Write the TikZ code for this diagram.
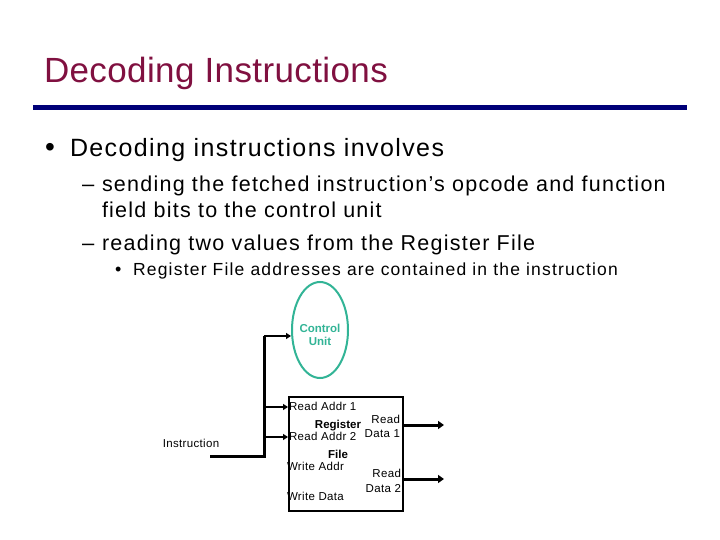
\documentclass[tikz,border=0pt]{standalone}
\usepackage{fontspec}
\setmainfont{Liberation Sans}
\usetikzlibrary{arrows.meta,shapes.geometric}
\definecolor{titlered}{RGB}{128,16,64}
\definecolor{rulenavy}{RGB}{0,0,120}
\definecolor{cuteal}{RGB}{50,180,150}
\begin{document}
\begin{tikzpicture}[x=1pt,y=-1pt,
  txt/.style={anchor=base west,inner sep=0pt,outer sep=0pt},
  small/.style={inner sep=0pt,outer sep=0pt,font=\fontsize{11.5}{12}\selectfont\addfontfeature{LetterSpace=3}},
  bus/.style={line width=3pt},
  busarrow/.style={line width=3pt,-{Triangle[length=6pt,width=8pt]}},
  thinarrow/.style={line width=2.2pt,-{Triangle[length=5pt,width=6pt]}}]
\useasboundingbox (0,0) rectangle (720,540);
\fill[white] (0,0) rectangle (720,540);
% title
\node[txt,text=titlered,font=\fontsize{35}{40}\selectfont\addfontfeature{LetterSpace=1.1}] (title) at (44,83) {Decoding Instructions};
\fill[rulenavy] (33,105) rectangle (687,110);
% bullets
\node[txt,font=\fontsize{28}{32}\selectfont] (b1) at (45,157) {•};
\node[txt,font=\fontsize{25}{30}\selectfont\addfontfeature{LetterSpace=5.6}] (t1) at (70,157) {Decoding instructions involves};
\node[txt,font=\fontsize{22}{26}\selectfont] (d1) at (82,192) {–};
\node[txt,font=\fontsize{21.5}{26}\selectfont\addfontfeature{LetterSpace=5.8}] (t2) at (102,192) {sending the fetched instruction’s opcode and function};
\node[txt,font=\fontsize{21.5}{26}\selectfont\addfontfeature{LetterSpace=5.8}] (t3) at (102,218) {field bits to the control unit};
\node[txt,font=\fontsize{22}{26}\selectfont] (d2) at (82,251) {–};
\node[txt,font=\fontsize{21.5}{26}\selectfont\addfontfeature{LetterSpace=5.8}] (t4) at (102,251) {reading two values from the Register File};
\node[txt,font=\fontsize{18}{22}\selectfont] (b2) at (115,275) {•};
\node[txt,font=\fontsize{17.5}{22}\selectfont\addfontfeature{LetterSpace=6.9}] (t5) at (133,275) {Register File addresses are contained in the instruction};
% control unit
\node[ellipse,draw=cuteal,line width=2pt,minimum width=56pt,minimum height=96pt,inner sep=0pt] (cu) at (320,330) {};
\node[small,font=\fontsize{11.5}{12}\selectfont\bfseries,text=cuteal,anchor=base] (cu1) at (320,332) {Control};
\node[small,font=\fontsize{11.5}{12}\selectfont\bfseries,text=cuteal,anchor=base] (cu2) at (320,345) {Unit};
% register file
\node[draw,line width=1.5pt,minimum width=114pt,minimum height=114pt,inner sep=0pt,anchor=north west] (rf) at (288,396) {};
\node[small,anchor=base west] (ra1) at (289,410) {Read Addr 1};
\node[small,anchor=base west] (ra2) at (289,440) {Read Addr 2};
\node[small,anchor=base west] (wa) at (287,470) {Write Addr};
\node[small,anchor=base west] (wd) at (287,500) {Write Data};
\node[small,anchor=base,font=\fontsize{11.5}{12}\selectfont\bfseries] (reg) at (338,428) {Register};
\node[small,anchor=base,font=\fontsize{11.5}{12}\selectfont\bfseries] (fil) at (338,458) {File};
\node[small,anchor=base east] (rd1a) at (400,423) {Read};
\node[small,anchor=base east] (rd1b) at (400,437) {Data 1};
\node[small,anchor=base east] (rd2a) at (401,477) {Read};
\node[small,anchor=base east] (rd2b) at (401,492) {Data 2};
% instruction
\node[small,anchor=base] (ins) at (191,447) {Instruction};
\coordinate (istart) at (210,456);
\coordinate (jb) at (264,456);
\coordinate (jt) at (264,336);
\coordinate (j1) at (264,407);
\coordinate (j2) at (264,437);
\coordinate (o1) at (444,425);
\coordinate (o2) at (444,479);
\draw[bus,line join=miter] (istart) -- (jb) -- (jt);
\draw[thinarrow] (jt) -- (cu.west |- jt);
\draw[thinarrow] (j1) -- (rf.west |- j1);
\draw[thinarrow] (j2) -- (rf.west |- j2);
\draw[busarrow] (rf.east |- o1) -- (o1);
\draw[busarrow] (rf.east |- o2) -- (o2);
\end{tikzpicture}
\end{document}
